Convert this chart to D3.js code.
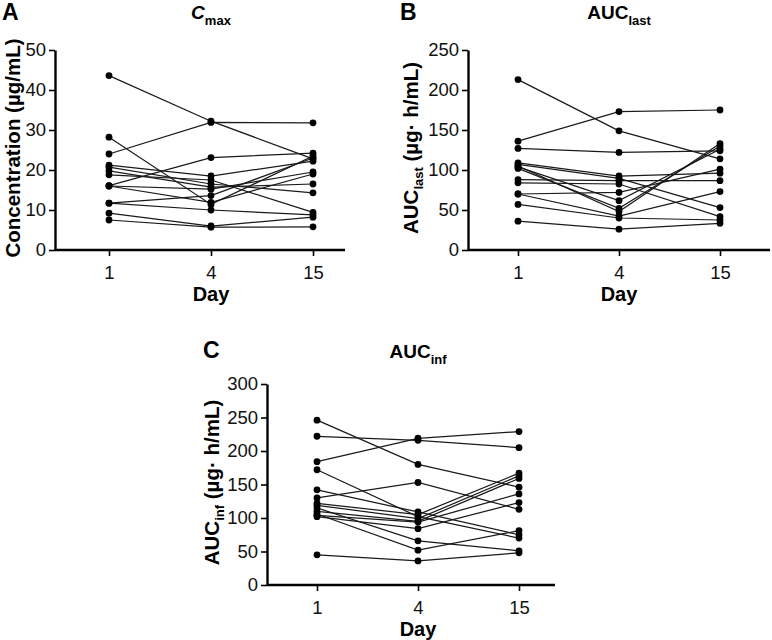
<!DOCTYPE html>
<html>
<head>
<meta charset="utf-8">
<script src="https://cdn.jsdelivr.net/npm/d3@7"></script>
<style>
  body { margin: 0; background: #fff; }
  svg { font-family: "Liberation Sans", Arial, sans-serif; }
</style>
</head>
<body>
<svg id="chart" width="772" height="640"></svg>
<script>
// days on the x axis
var days = ["1", "4", "15"];

// Cmax (µg/mL), one entry per subject
var cmaxDay1  = [43.6, 24.0, 28.2, 16.1, 21.2, 20.7, 19.8, 18.8, 16.0, 16.0, 11.7, 11.7, 9.2, 7.5];
var cmaxDay4  = [32.2, 31.9, 11.4, 23.1, 18.5, 16.5, 15.7, 17.5, 15.2, 11.9, 13.6, 10.0, 6.0, 5.7];
var cmaxDay15 = [22.8, 31.8, 23.5, 24.2, 22.2, 14.3, 16.5, 9.4, 19.5, 19.0, 23.0, 8.8, 8.2, 5.8];

// AUClast (µg·h/mL)
var aucLastDay1  = [213, 136, 127, 109, 107, 105, 104, 102, 88, 84, 70, 70, 57, 36];
var aucLastDay4  = [149, 173, 122, 92.5, 89.6, 48, 61.7, 52, 86.7, 82.5, 72, 42.5, 40, 26];
var aucLastDay15 = [114, 175, 124, 96, 53, 133, 126, 130, 86.7, 41.7, 101, 73, 37.5, 33.3];

// AUCinf (µg·h/mL)
var aucInfDay1  = [246, 222, 184, 172, 142, 130, 122, 119, 115, 110, 106, 104, 102, 45];
var aucInfDay4  = [180, 216, 219, 102, 109, 153, 105, 99, 66, 95, 52, 94, 84, 36];
var aucInfDay15 = [146, 205, 229, 70, 75, 113, 167, 163, 51, 159, 81, 136, 123, 48];

var yTicksA = [0, 10, 20, 30, 40, 50];
var yTicksB = [0, 50, 100, 150, 200, 250];
var yTicksC = [0, 50, 100, 150, 200, 250, 300];

var svg = d3.select("#chart");

function drawPanel(p) {
    var g = svg.append("g");

    var x = d3.scalePoint()
        .domain(days)
        .range([p.first, p.last]);
    var y = d3.scaleLinear()
        .domain([0, p.max])
        .range([p.bottom, p.top]);

    // x axis
    var xa = g.append("g")
        .attr("transform", "translate(0," + p.bottom + ")")
        .call(d3.axisBottom(x).tickSize(6).tickPadding(10));
    xa.select(".domain").remove();
    xa.selectAll("line").attr("stroke", "#000").attr("stroke-width", 1.6);
    xa.selectAll("text").attr("font-size", 18.5).attr("fill", "#111");
    g.append("line")
        .attr("x1", p.left).attr("x2", p.right)
        .attr("y1", p.bottom).attr("y2", p.bottom)
        .attr("stroke", "#000").attr("stroke-width", 2.4);

    // y axis
    var ya = g.append("g")
        .attr("transform", "translate(" + p.left + ",0)")
        .call(d3.axisLeft(y).tickValues(p.ticks).tickSize(6).tickPadding(3).tickSizeOuter(0));
    ya.select(".domain").attr("stroke-width", 2.4);
    ya.selectAll("line").attr("stroke", "#000").attr("stroke-width", 1.6);
    ya.selectAll("text").attr("font-size", 18.5).attr("fill", "#111");

    // subject lines
    var subjects = p.d1.map(function (v, i) { return [v, p.d4[i], p.d15[i]]; });
    var line = d3.line()
        .x(function (d, i) { return x(days[i]); })
        .y(function (d) { return y(d); });
    g.selectAll(".subj")
        .data(subjects)
        .enter()
        .append("path")
          .attr("d", line)
          .attr("fill", "none")
          .attr("stroke", "#1a1a1a")
          .attr("stroke-width", 1.25);

    // points
    subjects.forEach(function (s) {
        g.selectAll(null)
            .data(s)
            .enter()
            .append("circle")
              .attr("cx", function (d, i) { return x(days[i]); })
              .attr("cy", function (d) { return y(d); })
              .attr("r", 3.4)
              .attr("fill", "#000");
    });

    // panel letter
    g.append("text")
        .attr("x", p.letterX).attr("y", p.letterY)
        .attr("font-size", 23).attr("font-weight", "bold")
        .text(p.letter);

    // title with subscript
    var t = g.append("text")
        .attr("x", (p.first + p.last) / 2).attr("y", p.titleY)
        .attr("text-anchor", "middle")
        .attr("font-size", 19).attr("font-weight", "bold");
    t.append("tspan").attr("font-style", p.titleItalic ? "italic" : "normal").text(p.title);
    t.append("tspan").attr("font-size", 13).attr("dy", 6).text(p.titleSub);

    // x title
    g.append("text")
        .attr("x", (p.first + p.last) / 2).attr("y", p.bottom + 51)
        .attr("text-anchor", "middle")
        .attr("font-size", 20).attr("font-weight", "bold")
        .text("Day");

    // y title (rotated)
    var yt = g.append("text")
        .attr("transform", "translate(" + p.yTitleX + "," + ((p.top + p.bottom) / 2 - 2) + ") rotate(-90)")
        .attr("text-anchor", "middle")
        .attr("font-size", 20.5).attr("font-weight", "bold");
    p.yTitle.forEach(function (part) {
        var ts = yt.append("tspan").text(part.text);
        if (part.sub) ts.attr("font-size", 13).attr("dy", 5);
        else if (part.after) ts.attr("dy", -5);
    });
}

drawPanel({
    letter: "A", letterX: 2, letterY: 20,
    title: "C", titleSub: "max", titleItalic: true, titleY: 19,
    left: 55, right: 345, top: 50, bottom: 250, first: 109, last: 313,
    max: 50, ticks: yTicksA,
    d1: cmaxDay1, d4: cmaxDay4, d15: cmaxDay15,
    yTitleX: 20,
    yTitle: [{ text: "Concentration (µg/mL)" }]
});

drawPanel({
    letter: "B", letterX: 400, letterY: 20,
    title: "AUC", titleSub: "last", titleItalic: false, titleY: 19,
    left: 468, right: 770, top: 50, bottom: 250, first: 518, last: 720,
    max: 250, ticks: yTicksB,
    d1: aucLastDay1, d4: aucLastDay4, d15: aucLastDay15,
    yTitleX: 418,
    yTitle: [{ text: "AUC" }, { text: "last", sub: true }, { text: " (µg· h/mL)", after: true }]
});

drawPanel({
    letter: "C", letterX: 203, letterY: 358,
    title: "AUC", titleSub: "inf", titleItalic: false, titleY: 358,
    left: 267, right: 555, top: 384, bottom: 585, first: 317, last: 519,
    max: 300, ticks: yTicksC,
    d1: aucInfDay1, d4: aucInfDay4, d15: aucInfDay15,
    yTitleX: 219,
    yTitle: [{ text: "AUC" }, { text: "inf", sub: true }, { text: " (µg· h/mL)", after: true }]
});
</script>
</body>
</html>
